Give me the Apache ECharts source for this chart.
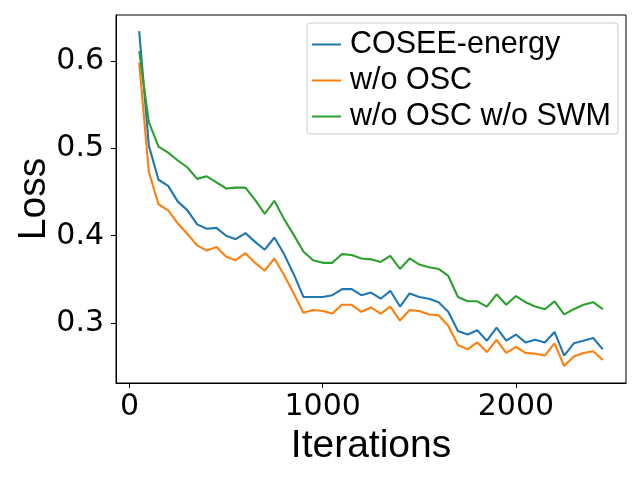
<!DOCTYPE html>
<html>
<head>
<meta charset="utf-8">
<script src="https://cdn.jsdelivr.net/npm/echarts@6/dist/echarts.min.js"></script>
<style>html,body{margin:0;padding:0;background:#fff;}#c{width:640px;height:480px;}</style>
</head>
<body>
<div id="c"></div>
<script>
const iterations = [50,100,150,200,250,300,350,400,450,500,550,600,650,700,750,800,850,900,950,1000,1050,1100,1150,1200,1250,1300,1350,1400,1450,1500,1550,1600,1650,1700,1750,1800,1850,1900,1950,2000,2050,2100,2150,2200,2250,2300,2350,2400,2450];
const coseeEnergy = [0.634,0.503,0.464,0.457,0.439,0.429,0.413,0.408,0.409,0.400,0.396,0.403,0.393,0.384,0.398,0.379,0.356,0.330,0.330,0.330,0.332,0.339,0.339,0.332,0.335,0.328,0.337,0.319,0.334,0.330,0.328,0.324,0.313,0.291,0.287,0.292,0.280,0.295,0.280,0.287,0.278,0.281,0.278,0.290,0.263,0.277,0.280,0.283,0.270];
const woOSC = [0.598,0.473,0.436,0.429,0.414,0.402,0.389,0.383,0.387,0.376,0.372,0.380,0.369,0.360,0.374,0.355,0.334,0.312,0.315,0.314,0.311,0.321,0.321,0.313,0.318,0.311,0.319,0.303,0.315,0.314,0.310,0.309,0.297,0.275,0.270,0.278,0.267,0.281,0.266,0.273,0.266,0.265,0.263,0.277,0.251,0.262,0.266,0.268,0.258];
const woOSCwoSWM = [0.611,0.530,0.502,0.495,0.486,0.478,0.465,0.468,0.461,0.454,0.455,0.455,0.441,0.425,0.440,0.419,0.401,0.382,0.372,0.369,0.369,0.379,0.378,0.374,0.373,0.370,0.377,0.362,0.374,0.367,0.364,0.362,0.354,0.330,0.325,0.325,0.319,0.333,0.321,0.331,0.324,0.319,0.316,0.325,0.310,0.316,0.321,0.324,0.316];
const seriesNames = ['COSEE-energy','w/o OSC','w/o OSC w/o SWM'];
const colors = ['#1f77b4','#ff7f0e','#2ca02c'];
const xTicks = [0,1000,2000];
const yTicks = [0.3,0.4,0.5,0.6];

const chart = echarts.init(document.getElementById('c'), null, {renderer:'canvas'});
const allSeries = [coseeEnergy, woOSC, woOSCwoSWM];
const option = {
  backgroundColor: '#ffffff',
  animation: false,
  color: colors,
  grid: {left:116, right:14, top:15, bottom:97, show:true, borderColor:'#000', borderWidth:1, containLabel:false},
  legend: {
    left: 307, top: 23, orient: 'vertical',
    icon: 'rect', itemWidth: 29, itemHeight: 2, itemGap: 5,
    padding: [6, 7, 2, 5],
    backgroundColor: 'rgba(255,255,255,0.8)', borderColor: '#cccccc', borderWidth: 1, borderRadius: 3,
    textStyle: {fontFamily: 'Liberation Sans, Arial, sans-serif', fontSize: 30.5, lineHeight: 30, color: '#000', padding: [0,0,0,4]},
    data: seriesNames
  },
  xAxis: {
    type: 'value', min: -70, max: 2570,
    name: 'Iterations', nameLocation: 'middle', nameGap: 44, nameMoveOverlap: false,
    nameTextStyle: {fontFamily: 'Liberation Sans, Arial, sans-serif', fontSize: 39, color: '#000'},
    splitLine: {show:false},
    axisLine: {show:true, onZero:false, lineStyle:{color:'#000', width:1}},
    axisTick: {show:true, length:5, lineStyle:{color:'#000', width:1}, customValues: xTicks},
    axisLabel: {fontFamily: 'DejaVu Sans, sans-serif', fontSize: 30, color:'#000', margin: 9, customValues: xTicks, formatter: v => String(v)}
  },
  yAxis: {
    type: 'value', min: 0.2316, max: 0.6524,
    name: 'Loss', nameLocation: 'middle', nameGap: 62, nameRotate: 90, nameMoveOverlap: false,
    nameTextStyle: {fontFamily: 'Liberation Sans, Arial, sans-serif', fontSize: 39, color: '#000'},
    splitLine: {show:false},
    axisLine: {show:true, onZero:false, lineStyle:{color:'#000', width:1}},
    axisTick: {show:true, length:5, lineStyle:{color:'#000', width:1}, customValues: yTicks},
    axisLabel: {fontFamily: 'DejaVu Sans, sans-serif', fontSize: 30, color:'#000', margin: 12, customValues: yTicks, formatter: v => v.toFixed(1)}
  },
  series: allSeries.map((vals, i) => ({
    name: seriesNames[i], type: 'line', showSymbol: false, symbol: 'none',
    lineStyle: {width: 2.1, color: colors[i]},
    itemStyle: {color: colors[i]},
    data: iterations.map((x, j) => [x, vals[j]])
  }))
};
chart.setOption(option);
</script>
</body>
</html>
